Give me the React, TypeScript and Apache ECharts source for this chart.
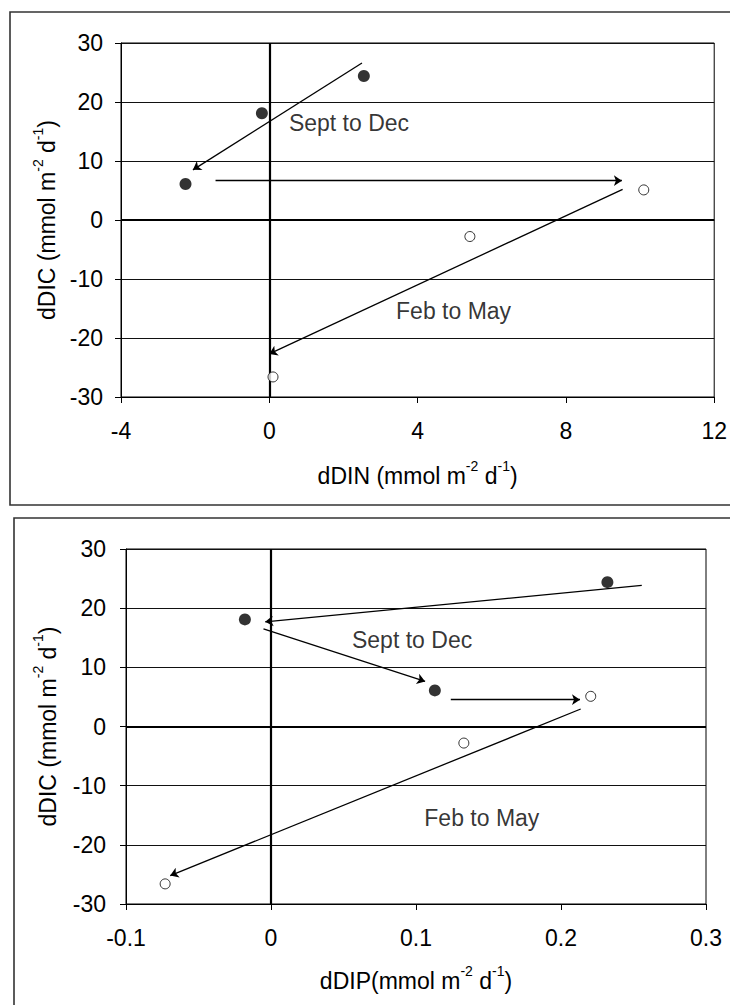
import React, { useEffect, useRef } from "react";
import * as echarts from "echarts";

// ---- Data ----
// DIC (shared by both panels)
const dicSeptDec = [24.4, 18.1, 6.1];
const dicFebMay = [5.1, -2.8, -26.6];
// Top panel: dDIN
const dinSeptDec = [2.55, -0.2, -2.26];
const dinFebMay = [10.1, 5.41, 0.1];
// Bottom panel: dDIP
const dipSeptDec = [0.232, -0.018, 0.113];
const dipFebMay = [0.2205, 0.133, -0.073];

// Arrows [x1, y1, x2, y2] (arrowhead at x2,y2)
const arrowsDIN = [
  [2.5, 26.6, -2.06, 8.5],
  [-1.45, 6.66, 9.51, 6.66],
  [9.53, 5.2, 0.0, -22.7],
];
const arrowsDIP = [
  [0.2557, 23.85, -0.004, 17.7],
  [-0.0052, 16.5, 0.1063, 7.62],
  [0.124, 4.53, 0.2131, 4.53],
  [0.2136, 2.96, -0.0695, -25.2],
];

// Period labels
const periodNames = ["Sept to Dec", "Feb to May"];
const labelPosDIN = [[2.15, 16.4], [4.97, -15.5]];
const labelPosDIP = [[0.0973, 14.7], [0.1454, -15.5]];

// Axis ranges / ticks
const xDIN = { min: -4, max: 12, interval: 4 };
const xDIP = { min: -0.1, max: 0.3, interval: 0.1 };
const yDIC = { min: -30, max: 30, interval: 10 };

const FONT = '"Liberation Sans", Arial, Helvetica, sans-serif';
const FS = 23;

const richTitle = {
  a: { fontSize: FS, fontFamily: FONT, color: "#000", verticalAlign: "bottom", lineHeight: 28 },
  s: { fontSize: 14, fontFamily: FONT, color: "#000", verticalAlign: "top", lineHeight: 15 },
};

export default function App() {
  const ref = useRef<HTMLDivElement>(null);
  useEffect(() => {
    if (!ref.current) return;
    const chart = echarts.init(ref.current, null, { renderer: "svg" });

    const xAxisBase = (gridIndex: number, r: any, name: string, nameGap: number, labelFmt: any) => ({
      type: "value",
      gridIndex,
      min: r.min,
      max: r.max,
      interval: r.interval,
      name,
      nameLocation: "middle",
      nameGap,
      nameTextStyle: { rich: richTitle },
      axisLine: { show: true, onZero: false, lineStyle: { color: "#000", width: 1 } },
      axisTick: { show: true, length: 6, lineStyle: { color: "#000" } },
      axisLabel: { fontSize: FS, fontFamily: FONT, color: "#000", margin: 22, formatter: labelFmt },
      splitLine: { show: false },
    });
    const yAxisBase = (gridIndex: number, nameGap: number, margin: number) => ({
      type: "value",
      gridIndex,
      min: yDIC.min,
      max: yDIC.max,
      interval: yDIC.interval,
      name: "{a|dDIC (mmol m}{s|-2}{a| d}{s|-1}{a|)}",
      nameLocation: "middle",
      nameGap,
      nameRotate: 90,
      nameTextStyle: { rich: richTitle },
      axisLine: { show: true, onZero: false, lineStyle: { color: "#000", width: 1 } },
      axisTick: { show: true, length: 6, lineStyle: { color: "#000" } },
      axisLabel: { fontSize: FS, fontFamily: FONT, color: "#000", margin },
      splitLine: { show: true, lineStyle: { color: "#111", width: 1 } },
    });

    const zeroMark = {
      silent: true,
      symbol: ["none", "none"],
      label: { show: false },
      lineStyle: { color: "#000", width: 2.2, type: "solid" },
      data: [{ xAxis: 0 }, { yAxis: 0 }],
    };

    const panel = (idx: number, xs1: number[], xs2: number[], arrows: number[][], labelPos: number[][]) => [
      {
        type: "scatter",
        xAxisIndex: idx,
        yAxisIndex: idx,
        symbolSize: 12,
        itemStyle: { color: "#000" },
        data: xs1.map((x, i) => [x, dicSeptDec[i]]),
        markLine: zeroMark,
        z: 5,
      },
      {
        type: "scatter",
        xAxisIndex: idx,
        yAxisIndex: idx,
        symbolSize: 10,
        itemStyle: { color: "#fff", borderColor: "#000", borderWidth: 1 },
        data: xs2.map((x, i) => [x, dicFebMay[i]]),
        z: 5,
      },
      {
        type: "lines",
        coordinateSystem: "cartesian2d",
        xAxisIndex: idx,
        yAxisIndex: idx,
        symbol: ["none", "arrow"],
        symbolSize: 8,
        lineStyle: { color: "#000", width: 1.3, opacity: 1, curveness: 0 },
        data: arrows.map((a) => ({ coords: [[a[0], a[1]], [a[2], a[3]]] })),
        z: 4,
      },
      {
        type: "scatter",
        xAxisIndex: idx,
        yAxisIndex: idx,
        symbolSize: 0,
        silent: true,
        label: {
          show: true,
          position: "inside",
          formatter: (p: any) => p.name,
          fontSize: FS,
          fontFamily: FONT,
          color: "#000",
        },
        data: periodNames.map((n, i) => ({ name: n, value: labelPos[i] })),
        z: 6,
      },
    ];

    chart.setOption({
      animation: false,
      backgroundColor: "#fff",
      graphic: [
        { type: "rect", shape: { x: 10, y: 12, width: 740, height: 493 }, style: { fill: "none", stroke: "#333", lineWidth: 1.6 }, silent: true },
        { type: "rect", shape: { x: 14, y: 518, width: 740, height: 520 }, style: { fill: "none", stroke: "#333", lineWidth: 1.6 }, silent: true },
      ],
      grid: [
        { left: 121, top: 43, width: 596, height: 354, show: true, borderColor: "#000", borderWidth: 1, backgroundColor: "transparent" },
        { left: 126, top: 549, width: 580, height: 355, show: true, borderColor: "#000", borderWidth: 1, backgroundColor: "transparent" },
      ],
      xAxis: [
        xAxisBase(0, xDIN, "{a|dDIN (mmol m}{s|-2}{a| d}{s|-1}{a|)}", 62, (v: number) => String(v)),
        xAxisBase(1, xDIP, "{a|dDIP(mmol m}{s|-2}{a| d}{s|-1}{a|)}", 60, (v: number) => String(Number(v.toFixed(1)))),
      ],
      yAxis: [yAxisBase(0, 62, 18), yAxisBase(1, 67, 20)],
      series: [
        ...panel(0, dinSeptDec, dinFebMay, arrowsDIN, labelPosDIN),
        ...panel(1, dipSeptDec, dipFebMay, arrowsDIP, labelPosDIP),
      ],
    });
    return () => chart.dispose();
  }, []);
  return (
    <div
      ref={ref}
      style={{ position: "absolute", left: 0, top: 0, width: 730, height: 1005 }}
    />
  );
}
